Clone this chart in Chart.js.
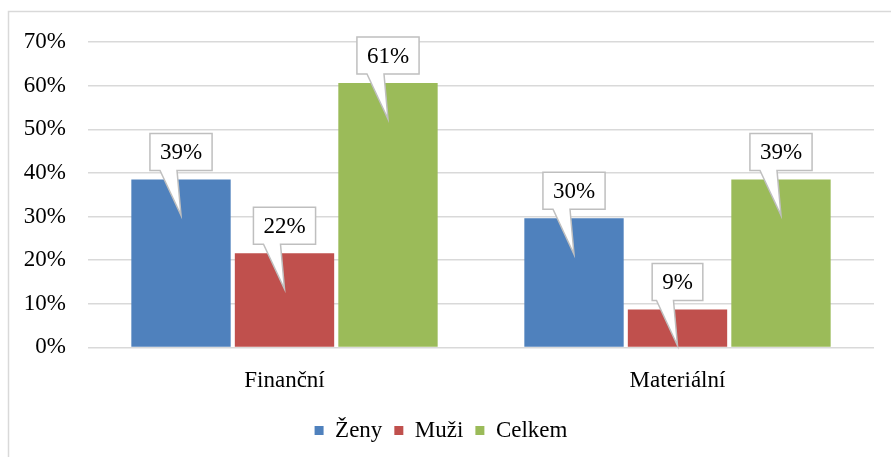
<!DOCTYPE html>
<html>
<head>
<meta charset="utf-8">
<script src="https://cdn.jsdelivr.net/npm/chart.js@4.4.0/dist/chart.umd.min.js"></script>
<style>
    html, body { margin: 0; padding: 0; background: #ffffff; }
    #wrap { position: relative; width: 891px; height: 457px; }
</style>
</head>
<body>
<div id="wrap"><canvas id="chart"></canvas></div>
<script>
// ========================================
// Data
// ========================================
const categories = ['Finanční', 'Materiální'];
const seriesNames = ['Ženy', 'Muži', 'Celkem'];
const zenyValues = [38.5, 29.6];
const muziValues = [21.6, 8.7];
const celkemValues = [60.6, 38.5];
const seriesColors = ['#4f81bd', '#c0504d', '#9bbb59'];
const yTicks = [0, 10, 20, 30, 40, 50, 60, 70];

const FONT = '"Liberation Serif", "Times New Roman", serif';

// ========================================
// Plugins
// ========================================
const frame = {
    id: 'frame',
    beforeDraw(chart) {
        const c = chart.ctx;
        c.save();
        c.strokeStyle = '#d9d9d9';
        c.lineWidth = 1.5;
        c.beginPath();
        c.moveTo(8.5, chart.height);
        c.lineTo(8.5, 11.5);
        c.lineTo(chart.width, 11.5);
        c.stroke();
        c.restore();
    }
};

const callouts = {
    id: 'callouts',
    afterDatasetsDraw(chart) {
        const c = chart.ctx;
        c.save();
        c.font = '23px ' + FONT;
        c.textAlign = 'center';
        c.textBaseline = 'middle';
        chart.data.datasets.forEach((ds, i) => {
            chart.getDatasetMeta(i).data.forEach((bar, j) => {
                const txt = Math.round(ds.data[j]) + '%';
                const cx = bar.x;
                const top = bar.y;
                const w = c.measureText(txt).width + 20;
                const h = 37;
                const bx = cx - w / 2;
                const by = top - 9 - h;
                const tipY = Math.min(top + 36, chart.chartArea.bottom);
                c.beginPath();
                c.moveTo(bx, by);
                c.lineTo(bx + w, by);
                c.lineTo(bx + w, by + h);
                c.lineTo(cx - 4, by + h);
                c.lineTo(cx, tipY);
                c.lineTo(cx - 21, by + h);
                c.lineTo(bx, by + h);
                c.closePath();
                c.fillStyle = '#ffffff';
                c.fill();
                c.strokeStyle = '#bfbfbf';
                c.lineWidth = 1.5;
                c.stroke();
                c.fillStyle = '#000000';
                c.fillText(txt, cx, by + h / 2 + 1);
            });
        });
        c.restore();
    }
};

// ========================================
// Chart
// ========================================
const values = [zenyValues, muziValues, celkemValues];

new Chart(document.getElementById('chart'), {
    type: 'bar',
    data: {
        labels: categories,
        datasets: seriesNames.map((name, i) => ({
            label: name,
            data: values[i],
            backgroundColor: seriesColors[i],
            borderWidth: 0,
            barPercentage: 0.96,
            categoryPercentage: 0.79
        }))
    },
    options: {
        responsive: true,
        maintainAspectRatio: false,
        animation: false,
        layout: { padding: { top: 42, left: 8, right: 17, bottom: 5 } },
        plugins: {
            tooltip: { enabled: false },
            legend: {
                position: 'bottom',
                labels: {
                    color: '#000000',
                    font: { family: FONT, size: 23 },
                    boxWidth: 9,
                    boxHeight: 9,
                    padding: 12
                }
            }
        },
        scales: {
            x: {
                grid: { display: false },
                border: { display: false },
                ticks: {
                    color: '#000000',
                    font: { family: FONT, size: 23 },
                    padding: 12
                }
            },
            y: {
                min: 0,
                max: 70,
                afterBuildTicks(axis) {
                    axis.ticks = yTicks.map(v => ({ value: v }));
                },
                afterFit(axis) { axis.width = 80; },
                grid: { color: '#d9d9d9', lineWidth: 1.5, drawTicks: false },
                border: { display: false },
                ticks: {
                    color: '#000000',
                    font: { family: FONT, size: 23 },
                    padding: 22,
                    callback: v => v + '%'
                }
            }
        }
    },
    plugins: [frame, callouts]
});
</script>
</body>
</html>
